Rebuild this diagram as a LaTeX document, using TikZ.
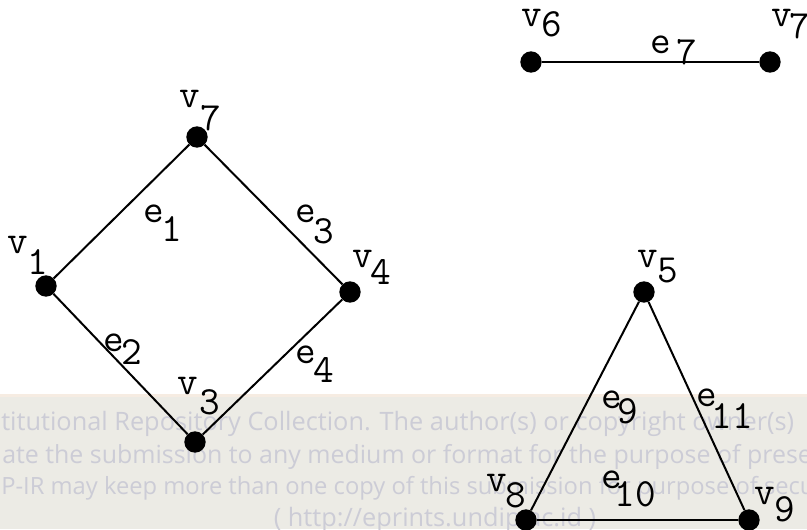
\documentclass[tikz,border=0pt]{standalone}
\usepackage{fontspec}
\newfontfamily\wmfont{Open Sans}
\definecolor{bandcol}{RGB}{236,235,229}
\definecolor{bandedge}{RGB}{246,236,226}
\definecolor{wmtext}{RGB}{204,204,214}
\tikzset{
  vtx/.style={circle, fill=black, inner sep=0pt, minimum size=16pt},
  edge/.style={line width=1.5pt, black},
  lt/.style={inner sep=0pt, font=\fontsize{30}{30}\selectfont\ttfamily},
  dg/.style={inner sep=0pt, font=\fontsize{30}{30}\selectfont\ttfamily},
  wm/.style={inner sep=0pt, anchor=base west, text=wmtext, font=\wmfont\fontsize{19}{19}\selectfont}
}
\begin{document}
\begin{tikzpicture}[x=0.75pt,y=-0.75pt]
\useasboundingbox (0,0) rectangle (807,529);
\begin{scope}
\clip (0,0) rectangle (807,529);
% watermark band
\fill[bandcol] (0,395) rectangle (807,529);
\fill[bandedge] (0,394) rectangle (807,397);
\node[wm] (wm1) at (1,430) {titutional Repository Collection. The author(s) or copyright owner(s)};
\node[wm, font=\wmfont\fontsize{18.7}{18.7}\selectfont] (wm2) at (2,463) {ate the submission to any medium or format for the purpose of prese};
\node[wm, font=\wmfont\fontsize{17.8}{17.8}\selectfont] (wm3) at (1,494) {P-IR may keep more than one copy of this submission for purpose of secur};
\node[wm, anchor=base] (wm4) at (435,526) {( http://eprints.undip.ac.id )};
\end{scope}

% vertices
\node[vtx] (v7a) at (197,137) {};
\node[vtx] (v1) at (46,286) {};
\node[vtx] (v4) at (350,292) {};
\node[vtx] (v3) at (195,442) {};
\node[vtx] (v6) at (531,62) {};
\node[vtx] (v7b) at (770,62) {};
\node[vtx] (v5) at (644,292) {};
\node[vtx] (v8) at (526,520) {};
\node[vtx] (v9) at (749,520) {};

% edges
\draw[edge] (v7a) -- (v1);
\draw[edge] (v7a) -- (v4);
\draw[edge] (v1) -- (v3);
\draw[edge] (v4) -- (v3);
\draw[edge] (v6) -- (v7b);
\draw[edge] (v5) -- (v8);
\draw[edge] (v5) -- (v9);
\draw[edge] (v8) -- (v9);

% vertex labels
\node[lt] (lv7a) at (190,99) {v};  \node[dg] (dv7a) at (211,118) {7};
\node[lt] (lv1) at (18,245) {v};   \node[dg] (dv1) at (38,262) {1};
\node[lt] (lv4) at (363,259) {v};  \node[dg] (dv4) at (381,272) {4};
\node[lt] (lv3) at (188,386) {v};  \node[dg] (dv3) at (210,402) {3};
\node[lt] (lv6) at (532,18) {v};   \node[dg] (dv6) at (552,24) {6};
\node[lt] (lv7b) at (782,18) {v};  \node[dg] (dv7b) at (800,26) {7};
\node[lt] (lv5) at (648,259) {v};  \node[dg] (dv5) at (668,271) {5};
\node[lt] (lv8) at (497,483) {v};  \node[dg] (dv8) at (516,495) {8};
\node[lt] (lv9) at (765,496) {v};  \node[dg] (dv9) at (785,509) {9};

% edge labels
\node[lt] (le1) at (154,214) {e};  \node[dg] (de1) at (172,229) {1};
\node[lt] (le3) at (306,214) {e};  \node[dg] (de3) at (324,231) {3};
\node[lt] (le2) at (114,343) {e};  \node[dg] (de2) at (132,352) {2};
\node[lt] (le4) at (306,355) {e};  \node[dg] (de4) at (324,370) {4};
\node[lt] (le7) at (661,45) {e};   \node[dg] (de7) at (687,52) {7};
\node[lt] (le9) at (612,400) {e};  \node[dg] (de9) at (628,411) {9};
\node[lt] (le11) at (707,398) {e}; \node[dg] (de11) at (732,416) {11};
\node[lt] (le10) at (612,480) {e}; \node[dg] (de10) at (635,494) {10};
\end{tikzpicture}
\end{document}
